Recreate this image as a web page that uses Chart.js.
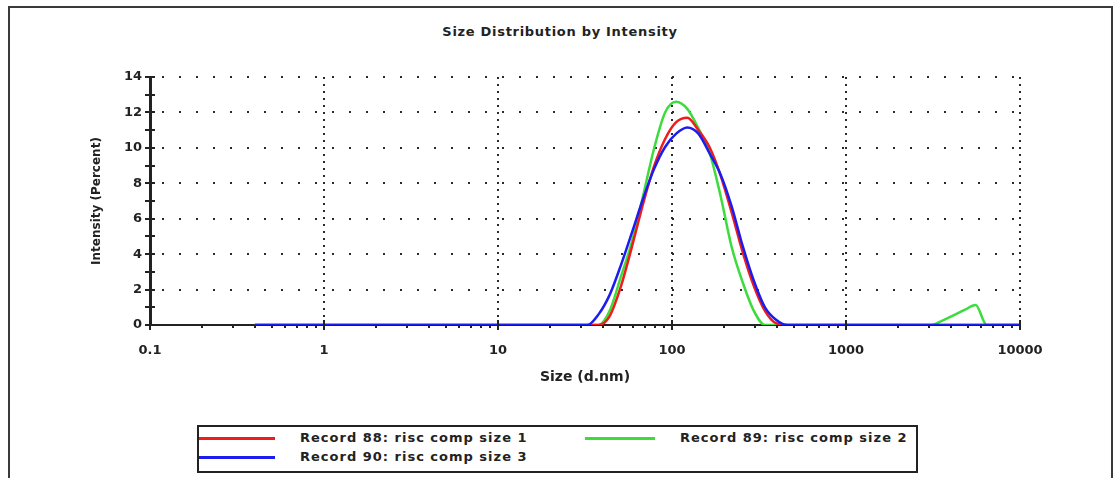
<!DOCTYPE html>
<html>
<head>
<meta charset="utf-8">
<script src="https://cdn.jsdelivr.net/npm/chart.js@4.4.0/dist/chart.umd.min.js"></script>
<style>
    html, body { margin: 0; padding: 0; background: #fff; width: 1113px; height: 478px; overflow: hidden; }
    #frame { position: absolute; left: 8px; top: 6px; width: 1105px; height: 520px; border: 2px solid #3a3a3a; box-sizing: border-box; }
    #chart { position: absolute; left: 0; top: 0; }
    #title { position: absolute; left: 0; top: 24px; width: 1120px; text-align: center; font: bold 13px "DejaVu Sans"; letter-spacing: 0.7px; color: #222; }
    #legend { position: absolute; left: 197px; top: 425px; width: 721px; height: 48px; border: 2px solid #222; box-sizing: border-box; background: #fff; }
    .lg-line { position: absolute; height: 3px; }
    .lg-text { position: absolute; font: bold 13px "DejaVu Sans"; letter-spacing: 1px; color: #222; white-space: nowrap; line-height: 16px; }
</style>
</head>
<body>
<div id="frame"></div>
<div id="title">Size Distribution by Intensity</div>
<canvas id="chart" width="1113" height="478"></canvas>
<div id="legend"></div>
<script>
// size classes (d.nm)
var sizes = [
    0.4, 0.4632, 0.5365, 0.6213, 0.7195, 0.8332, 0.965, 1.117, 1.294, 1.499,
    1.736, 2.01, 2.328, 2.696, 3.122, 3.615, 4.187, 4.849, 5.615, 6.503,
    7.531, 8.721, 10.1, 11.7, 13.54, 15.69, 18.17, 21.04, 24.36, 28.21,
    32.67, 37.84, 43.82, 50.75, 58.77, 68.06, 78.82, 91.28, 105.7, 122.4,
    141.8, 164.2, 190.1, 220.2, 255, 295.3, 342, 396.1, 458.7, 531.2,
    615.1, 712.4, 825, 955.4, 1106, 1281, 1484, 1718, 1990, 2305,
    2669, 3091, 3580, 4145, 4801, 5560, 6439, 7456, 8635, 10000
];

// intensity (%)
var record88 = [
    0, 0, 0, 0, 0, 0, 0, 0, 0, 0,
    0, 0, 0, 0, 0, 0, 0, 0, 0, 0,
    0, 0, 0, 0, 0, 0, 0, 0, 0, 0,
    0, 0, 0.5, 2.15, 4.4, 6.8, 8.95, 10.5, 11.45, 11.7,
    11.0, 10.05, 8.45, 6.35, 4.1, 2.2, 0.8, 0.1, 0, 0,
    0, 0, 0, 0, 0, 0, 0, 0, 0, 0,
    0, 0, 0, 0, 0, 0, 0, 0, 0, 0
];
var record89 = [
    0, 0, 0, 0, 0, 0, 0, 0, 0, 0,
    0, 0, 0, 0, 0, 0, 0, 0, 0, 0,
    0, 0, 0, 0, 0, 0, 0, 0, 0, 0,
    0, 0, 0.8, 2.7, 4.7, 7.25, 9.95, 12.0, 12.6, 12.2,
    11.1, 9.75, 7.3, 4.4, 2.4, 0.8, 0, 0, 0, 0,
    0, 0, 0, 0, 0, 0, 0, 0, 0, 0,
    0, 0, 0.25, 0.55, 0.85, 1.13, 0, 0, 0, 0
];
var record90 = [
    0, 0, 0, 0, 0, 0, 0, 0, 0, 0,
    0, 0, 0, 0, 0, 0, 0, 0, 0, 0,
    0, 0, 0, 0, 0, 0, 0, 0, 0, 0,
    0, 0.6, 1.7, 3.35, 5.2, 7.1, 8.8, 10.05, 10.8, 11.15,
    10.8, 9.7, 8.5, 6.7, 4.45, 2.5, 1.0, 0.3, 0, 0,
    0, 0, 0, 0, 0, 0, 0, 0, 0, 0,
    0, 0, 0, 0, 0, 0, 0, 0, 0, 0
];

var seriesNames = ['Record 88: risc comp size 1', 'Record 89: risc comp size 2', 'Record 90: risc comp size 3'];
var seriesColors = ['#ee1c1c', '#3cdc3c', '#1c1cee'];

var xTickValues = [0.1, 1, 10, 100, 1000, 10000];
var xTickLabels = ['0.1', '1', '10', '100', '1000', '10000'];
var yTickValues = [0, 2, 4, 6, 8, 10, 12, 14];
var yTickLabels = ['0', '2', '4', '6', '8', '10', '12', '14'];

// legend slots inside the box: line left/width/top, text left/top
var legendSlots = [
    { lx: 0, lw: 76, ly: 10, tx: 101, ty: 3 },
    { lx: 386, lw: 70, ly: 10, tx: 481, ty: 3 },
    { lx: 0, lw: 76, ly: 29, tx: 101, ty: 22 }
];

// dotted grid + axis ticks like the instrument software
var dlsGrid = {
    id: 'dlsGrid',
    beforeDatasetsDraw: function (chart) {
        var ctx = chart.ctx, a = chart.chartArea, x = chart.scales.x, y = chart.scales.y;
        ctx.save();
        ctx.strokeStyle = '#2a2a2a';
        ctx.lineWidth = 2;
        ctx.setLineDash([2, 5]);
        xTickValues.forEach(function (v, i) {
            if (i === 0) return;
            var px = Math.round(x.getPixelForValue(v));
            ctx.beginPath(); ctx.moveTo(px, a.top); ctx.lineTo(px, a.bottom); ctx.stroke();
        });
        ctx.setLineDash([2, 15]);
        yTickValues.forEach(function (v) {
            if (v === 0) return;
            var py = Math.round(y.getPixelForValue(v));
            ctx.beginPath(); ctx.moveTo(a.left + 12, py); ctx.lineTo(a.right, py); ctx.stroke();
        });
        ctx.restore();
    },
    afterDraw: function (chart) {
        var ctx = chart.ctx, a = chart.chartArea, x = chart.scales.x, y = chart.scales.y;
        ctx.save();
        ctx.strokeStyle = '#222';
        ctx.lineWidth = 2;
        // x: decade ticks cross the axis, minor ones hang below
        for (var e = 0; e < xTickValues.length; e++) {
            var base = xTickValues[e];
            for (var k = 1; k <= 9; k++) {
                var v = base * k;
                if (v > 10000) break;
                var px = Math.round(x.getPixelForValue(v));
                ctx.beginPath();
                if (k === 1) { ctx.moveTo(px, a.bottom - 5); ctx.lineTo(px, a.bottom + 5); }
                else { ctx.moveTo(px, a.bottom + 1); ctx.lineTo(px, a.bottom + 3); }
                ctx.stroke();
            }
        }
        // y: tick every 1 %
        for (var t = 0; t <= 14; t++) {
            var py = Math.round(y.getPixelForValue(t));
            ctx.beginPath(); ctx.moveTo(a.left - 5, py); ctx.lineTo(a.left + 5, py); ctx.stroke();
        }
        ctx.restore();
    }
};

function SizeChart() { }

SizeChart.prototype = {
    chart: null,

    init: function () {
        this.init_legend();
        this.init_chart();
    },

    init_legend: function () {
        var box = document.getElementById('legend');
        seriesNames.forEach(function (name, i) {
            var s = legendSlots[i];
            var line = document.createElement('div');
            line.className = 'lg-line';
            line.style.left = s.lx + 'px';
            line.style.width = s.lw + 'px';
            line.style.top = s.ly + 'px';
            line.style.background = seriesColors[i];
            box.appendChild(line);
            var txt = document.createElement('div');
            txt.className = 'lg-text';
            txt.style.left = s.tx + 'px';
            txt.style.top = s.ty + 'px';
            txt.textContent = name;
            box.appendChild(txt);
        });
    },

    init_chart: function () {
        var me = this;
        var values = [record88, record89, record90];
        var orders = [2, 3, 1]; // blue on top, green underneath

        var datasets = values.map(function (vals, i) {
            return {
                label: seriesNames[i],
                data: sizes.map(function (s, j) { return { x: s, y: vals[j] }; }),
                borderColor: seriesColors[i],
                borderWidth: 2.5,
                pointRadius: 0,
                fill: false,
                cubicInterpolationMode: 'monotone',
                order: orders[i]
            };
        });

        var labelFont = { family: 'DejaVu Sans', size: 13, weight: 'bold' };

        me.chart = new Chart(document.getElementById('chart'), {
            type: 'line',
            data: { datasets: datasets },
            plugins: [dlsGrid],
            options: {
                responsive: false,
                animation: false,
                devicePixelRatio: 1,
                layout: { padding: { left: 85, top: 77, right: 93, bottom: 91 } },
                plugins: { legend: { display: false }, tooltip: { enabled: false } },
                scales: {
                    x: {
                        type: 'logarithmic',
                        min: 0.1,
                        max: 10000,
                        afterFit: function (s) { s.height = 62; },
                        afterBuildTicks: function (s) { s.ticks = xTickValues.map(function (v) { return { value: v }; }); },
                        grid: { display: false, drawTicks: false, tickLength: 0 },
                        border: { display: true, color: '#222', width: 2 },
                        ticks: {
                            autoSkip: false,
                            maxRotation: 0,
                            padding: 18,
                            color: '#222',
                            font: labelFont,
                            callback: function (v) {
                                var i = xTickValues.indexOf(v);
                                return i >= 0 ? xTickLabels[i] : '';
                            }
                        },
                        title: { display: true, text: 'Size (d.nm)', color: '#222', font: { family: 'DejaVu Sans', size: 14, weight: 'bold' }, padding: { top: 0, bottom: 1 } }
                    },
                    y: {
                        min: 0,
                        max: 14,
                        afterFit: function (s) { s.width = 65; },
                        afterBuildTicks: function (s) { s.ticks = yTickValues.map(function (v) { return { value: v }; }); },
                        grid: { display: false, drawTicks: false, tickLength: 0 },
                        border: { display: true, color: '#222', width: 3 },
                        ticks: {
                            padding: 8,
                            color: '#222',
                            font: labelFont,
                            callback: function (v) {
                                var i = yTickValues.indexOf(v);
                                return i >= 0 ? yTickLabels[i] : '';
                            }
                        },
                        title: { display: true, text: 'Intensity (Percent)', color: '#222', font: { family: 'DejaVu Sans', size: 12, weight: 'bold' }, padding: { top: 5, bottom: 0 } }
                    }
                }
            }
        });
    }
};

new SizeChart().init();
</script>
</body>
</html>
